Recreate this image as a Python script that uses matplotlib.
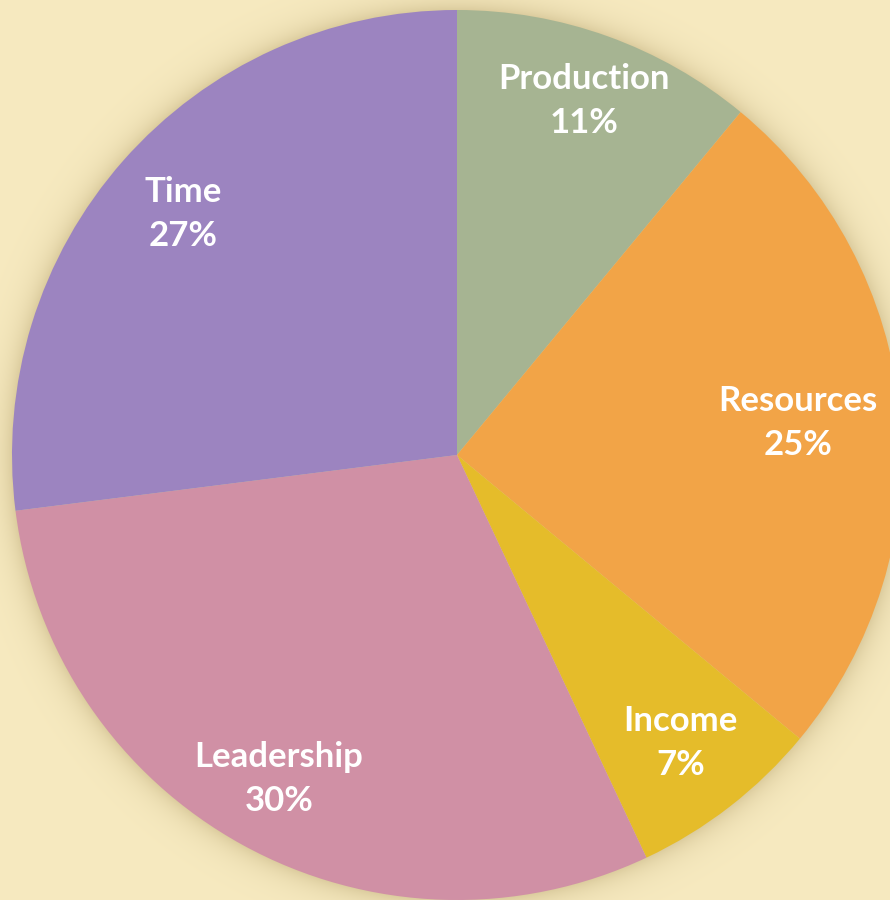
import numpy as np
import matplotlib
matplotlib.use('Agg')
import matplotlib.pyplot as plt

# slice data, clockwise from 12 o'clock
labels = ['Production', 'Resources', 'Income', 'Leadership', 'Time']
shares = [11, 25, 7, 30, 27]
colors = ['#A6B492', '#F2A447', '#E5BC2A', '#D090A5', '#9C84C0']
label_dist = [0.845, 0.77, 0.82, 0.83, 0.82]

W, H = 890, 900
cx, cy, R = 457, 445, 445
bg = np.array([247, 234, 192]) / 255.0
shade = np.array([205, 188, 140]) / 255.0

fig = plt.figure(figsize=(W / 100, H / 100), dpi=100)
ax = fig.add_axes([0, 0, 1, 1])

# soft shadow around the pie
yy, xx = np.mgrid[0:H, 0:W] + 0.5
dist = np.hypot(xx - cx, yy - cy) - R
k = np.where(dist > 0, np.exp(-dist / 13.0), 1.0) * 0.65
img = bg * (1 - k[..., None]) + shade * k[..., None]
ax.imshow(img, extent=(0, W, 0, H), origin='lower', zorder=0)

wedges, _ = ax.pie(shares, colors=colors, startangle=90, counterclock=False,
                   center=(cx, cy), radius=R, frame=True,
                   wedgeprops=dict(linewidth=0, antialiased=True))
for w in wedges:
    w.set_zorder(2)

for w, name, val, d in zip(wedges, labels, shares, label_dist):
    mid = np.deg2rad((w.theta1 + w.theta2) / 2)
    x = cx + d * R * np.cos(mid)
    y = cy + d * R * np.sin(mid)
    ax.text(x, y, f'{name}\n{val}%', ha='center', va='center', color='white',
            fontsize=25, fontweight='bold', family=['Lato', 'DejaVu Sans'],
            linespacing=1.45, zorder=3)

ax.set_xlim(0, W)
ax.set_ylim(0, H)
ax.set_aspect('equal')
ax.axis('off')
fig.savefig('out.png', dpi=100, facecolor=bg)
